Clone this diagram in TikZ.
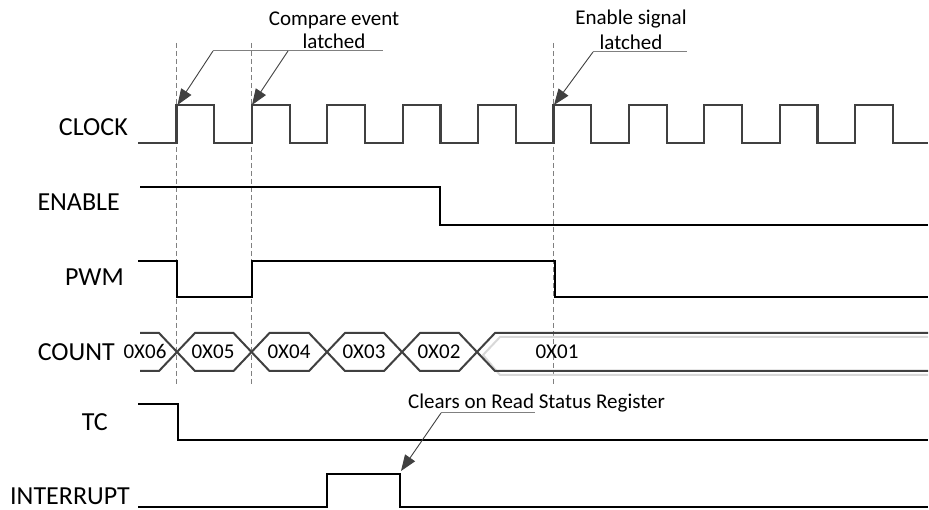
\documentclass[tikz,border=0pt]{standalone}
\usepackage{fontspec}
\setmainfont{Carlito}
\usetikzlibrary{arrows.meta}
\definecolor{wave}{HTML}{404040}
\definecolor{guide}{HTML}{808080}
\definecolor{shadowc}{HTML}{D8D8D8}
\begin{document}
\begin{tikzpicture}[x=1pt,y=-1pt,
  lbl/.style={font=\fontsize{26}{31}\selectfont, anchor=base east, inner sep=0pt},
  ann/.style={font=\fontsize{21}{25}\selectfont, anchor=base, inner sep=0pt},
  val/.style={font=\fontsize{21}{25}\selectfont, anchor=base, inner sep=0pt},
  clk/.style={draw=wave, line width=2.2pt},
  sig/.style={draw=black, line width=2pt},
  bus/.style={draw=wave, line width=2pt},
  busshadow/.style={draw=shadowc, line width=2pt},
  guideline/.style={draw=guide, line width=0.9pt, dash pattern=on 5pt off 3pt},
  leader/.style={draw=guide, line width=1pt},
  callout/.style={draw=wave, line width=0.9pt, -{Triangle[length=16pt,width=12pt]}},
]
\useasboundingbox (0,0) rectangle (929,510);

% dashed guides
\draw[guideline] (176.5,43) -- (176.5,385);
\draw[guideline] (251.9,43) -- (251.9,385);
\draw[guideline] (553.5,43) -- (553.5,385);

% labels
\node[lbl] (lclock) at (128,136) {CLOCK};
\node[lbl] (lenable) at (120,211) {ENABLE};
\node[lbl] (lpwm) at (124,286) {PWM};
\node[lbl] (lcount) at (115,361) {COUNT};
\node[lbl] (ltc) at (108,431) {TC};
\node[lbl] (lint) at (130,504.5) {INTERRUPT};

% clock
\draw[clk] (138,143)
  \foreach \k in {0,...,9} {
    -- ({176.5+75.4*\k},143) -- ({176.5+75.4*\k},105)
    -- ({214.2+75.4*\k},105) -- ({214.2+75.4*\k},143)
  } -- (928,143);

% enable
\draw[sig] (140,187) -- (440,187) -- (440,225) -- (928,225);
% pwm
\draw[sig] (138,261) -- (177,261) -- (177,297) -- (251.5,297) -- (251.5,261)
  -- (555,261) -- (555,297) -- (928,297);
% tc
\draw[sig] (138,404) -- (177.5,404) -- (177.5,440) -- (928,440);
% interrupt
\draw[sig] (138,507) -- (327,507) -- (327,474) -- (400,474) -- (400,507) -- (928,507);

% count bus shadow of last value
\draw[busshadow] (928,337) -- (500,337) -- (483,355) -- (500,375) -- (928,375);
% count bus
\draw[bus] (140,333) -- (159,333) -- (195,371) -- (233.5,371) -- (269.5,333)
  -- (309,333) -- (345,371) -- (384,371) -- (420,333) -- (459,333) -- (495,371) -- (928,371);
\draw[bus] (140,371) -- (159,371) -- (195,333) -- (233.5,333) -- (269.5,371)
  -- (309,371) -- (345,333) -- (384,333) -- (420,371) -- (459,371) -- (495,333) -- (928,333);

% values
\node[val] (v6) at (145,359) {0X06};
\node[val] (v5) at (213,359) {0X05};
\node[val] (v4) at (289,359) {0X04};
\node[val] (v3) at (364,359) {0X03};
\node[val] (v2) at (439,359) {0X02};
\node[val] (v1) at (557,359) {0X01};

% annotations
\node[ann] (a1a) at (334,26) {Compare event};
\node[ann] (a1b) at (334,49) {latched};
\node[ann] (a2a) at (631,25) {Enable signal};
\node[ann] (a2b) at (631,50) {latched};
\node[ann, anchor=base west] (a3) at (408,409) {Clears on Read Status Register};

\coordinate (s1) at (213,51);
\coordinate (s2) at (288,51);
\coordinate (e1) at (177.5,105);
\coordinate (e2) at (252,105);
\coordinate (s3) at (593,52);
\coordinate (e3) at (554,105);
\coordinate (s4) at (441,413);
\coordinate (e4) at (401,471);
\coordinate (l1) at (383,51);
\coordinate (l2) at (687,52);
\coordinate (l3) at (535,413);

\draw[leader] (s1) -- (l1);
\draw[leader] (s3) -- (l2);
\draw[leader] (s4) -- (l3);
\draw[callout] (s1) -- (e1);
\draw[callout] (s2) -- (e2);
\draw[callout] (s3) -- (e3);
\draw[callout] (s4) -- (e4);
\end{tikzpicture}
\end{document}
